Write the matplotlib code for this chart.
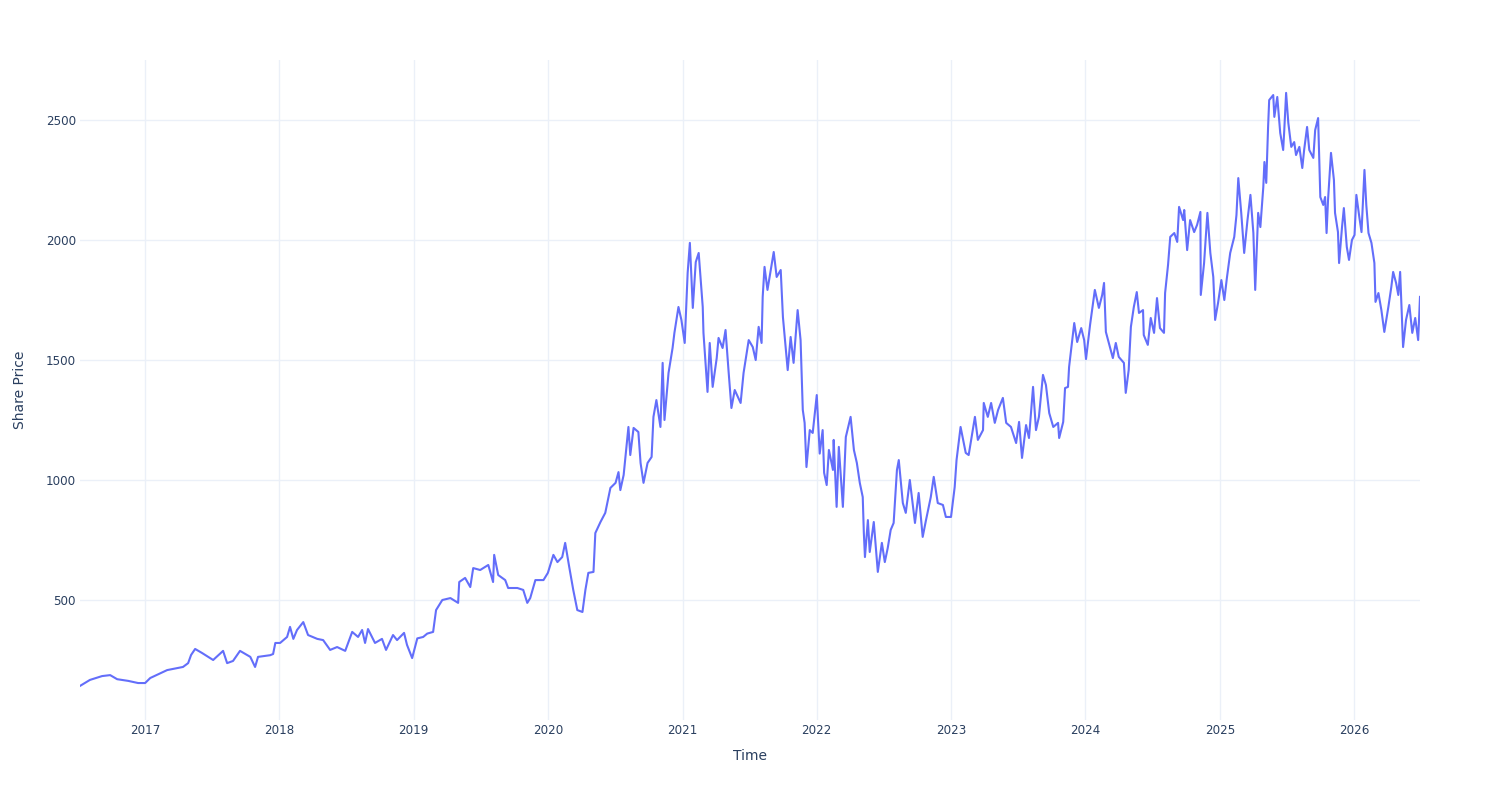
import pandas as pd
import matplotlib.pyplot as plt
import matplotlib.dates as mdates

# share price, one line per year
dates = [
    "2016-07-08", "2016-08-04", "2016-09-06", "2016-09-28", "2016-10-17", "2016-11-16", "2016-12-13",
    "2017-01-01", "2017-01-15", "2017-03-02", "2017-04-14", "2017-04-28", "2017-05-06", "2017-05-17",
    "2017-06-05", "2017-07-05", "2017-08-01", "2017-08-12", "2017-08-28", "2017-09-16", "2017-10-14",
    "2017-10-27", "2017-11-04", "2017-12-07", "2017-12-15", "2017-12-21",
    "2018-01-03", "2018-01-22", "2018-01-30", "2018-02-08", "2018-02-18", "2018-03-07", "2018-03-20",
    "2018-04-14", "2018-04-30", "2018-05-19", "2018-06-07", "2018-06-29", "2018-07-18", "2018-08-03",
    "2018-08-14", "2018-08-22", "2018-08-30", "2018-09-18", "2018-10-07", "2018-10-18", "2018-11-06",
    "2018-11-17", "2018-12-06", "2018-12-14", "2018-12-28",
    "2019-01-11", "2019-01-27", "2019-02-07", "2019-02-23", "2019-03-03", "2019-03-20", "2019-04-11",
    "2019-05-02", "2019-05-05", "2019-05-21", "2019-06-04", "2019-06-12", "2019-07-01", "2019-07-23",
    "2019-08-05", "2019-08-08", "2019-08-19", "2019-09-07", "2019-09-15", "2019-10-10", "2019-10-26",
    "2019-11-06", "2019-11-14", "2019-11-28", "2019-12-20",
    "2020-01-01", "2020-01-16", "2020-01-27", "2020-02-09", "2020-02-17", "2020-02-28", "2020-03-10",
    "2020-03-21", "2020-04-04", "2020-04-12", "2020-04-20", "2020-05-04", "2020-05-09", "2020-05-23",
    "2020-06-05", "2020-06-19", "2020-07-03", "2020-07-11", "2020-07-16", "2020-07-25", "2020-08-07",
    "2020-08-12", "2020-08-21", "2020-09-03", "2020-09-09", "2020-09-17", "2020-09-28", "2020-10-09",
    "2020-10-14", "2020-10-22", "2020-11-02", "2020-11-08", "2020-11-13", "2020-11-24", "2020-12-05",
    "2020-12-10", "2020-12-21", "2020-12-29",
    "2021-01-07", "2021-01-15", "2021-01-21", "2021-01-29", "2021-02-06", "2021-02-14", "2021-02-25",
    "2021-02-27", "2021-03-10", "2021-03-16", "2021-03-24", "2021-04-04", "2021-04-09", "2021-04-20",
    "2021-04-28", "2021-05-06", "2021-05-14", "2021-05-23", "2021-06-08", "2021-06-16", "2021-06-30",
    "2021-07-11", "2021-07-19", "2021-07-27", "2021-08-04", "2021-08-07", "2021-08-12", "2021-08-20",
    "2021-08-29", "2021-09-06", "2021-09-14", "2021-09-25", "2021-10-01", "2021-10-14", "2021-10-22",
    "2021-10-30", "2021-11-10", "2021-11-18", "2021-11-24", "2021-11-29", "2021-12-04", "2021-12-13",
    "2021-12-21",
    "2022-01-01", "2022-01-09", "2022-01-17", "2022-01-21", "2022-01-28", "2022-02-03", "2022-02-14",
    "2022-02-16", "2022-02-24", "2022-03-02", "2022-03-13", "2022-03-21", "2022-04-03", "2022-04-12",
    "2022-04-20", "2022-04-28", "2022-05-06", "2022-05-09", "2022-05-12", "2022-05-20", "2022-05-25",
    "2022-06-05", "2022-06-16", "2022-06-27", "2022-07-05", "2022-07-13", "2022-07-21", "2022-07-29",
    "2022-08-07", "2022-08-12", "2022-08-23", "2022-08-31", "2022-09-11", "2022-09-25", "2022-10-05",
    "2022-10-16", "2022-10-25", "2022-11-07", "2022-11-15", "2022-11-26", "2022-12-10", "2022-12-18",
    "2023-01-01", "2023-01-11", "2023-01-16", "2023-01-27", "2023-02-10", "2023-02-18", "2023-03-07",
    "2023-03-15", "2023-03-29", "2023-03-31", "2023-04-11", "2023-04-20", "2023-04-30", "2023-05-09",
    "2023-05-22", "2023-05-31", "2023-06-13", "2023-06-27", "2023-07-05", "2023-07-13", "2023-07-24",
    "2023-08-01", "2023-08-12", "2023-08-20", "2023-08-28", "2023-09-08", "2023-09-16", "2023-09-25",
    "2023-10-06", "2023-10-19", "2023-10-22", "2023-11-02", "2023-11-07", "2023-11-15", "2023-11-18",
    "2023-12-02", "2023-12-10", "2023-12-21", "2023-12-29",
    "2024-01-03", "2024-01-14", "2024-01-27", "2024-02-07", "2024-02-16", "2024-02-21", "2024-02-26",
    "2024-03-05", "2024-03-16", "2024-03-24", "2024-04-01", "2024-04-15", "2024-04-20", "2024-04-28",
    "2024-05-04", "2024-05-12", "2024-05-20", "2024-05-26", "2024-06-06", "2024-06-08", "2024-06-19",
    "2024-06-27", "2024-07-06", "2024-07-14", "2024-07-22", "2024-08-02", "2024-08-05", "2024-08-13",
    "2024-08-19", "2024-08-30", "2024-09-07", "2024-09-12", "2024-09-23", "2024-09-26", "2024-10-04",
    "2024-10-12", "2024-10-23", "2024-10-31", "2024-11-09", "2024-11-10", "2024-11-19", "2024-11-28",
    "2024-12-06", "2024-12-14", "2024-12-19", "2024-12-27",
    "2025-01-05", "2025-01-13", "2025-01-20", "2025-01-29", "2025-02-09", "2025-02-15", "2025-02-20",
    "2025-02-28", "2025-03-08", "2025-03-17", "2025-03-25", "2025-04-02", "2025-04-07", "2025-04-15",
    "2025-04-21", "2025-04-29", "2025-05-02", "2025-05-07", "2025-05-12", "2025-05-15", "2025-05-26",
    "2025-05-29", "2025-06-06", "2025-06-14", "2025-06-22", "2025-06-25", "2025-06-30", "2025-07-06",
    "2025-07-14", "2025-07-22", "2025-07-27", "2025-08-05", "2025-08-13", "2025-08-18", "2025-08-26",
    "2025-09-01", "2025-09-12", "2025-09-17", "2025-09-25", "2025-10-01", "2025-10-09", "2025-10-14",
    "2025-10-18", "2025-10-22", "2025-10-30", "2025-11-07", "2025-11-10", "2025-11-18", "2025-11-21",
    "2025-11-29", "2025-12-04", "2025-12-12", "2025-12-18", "2025-12-26",
    "2026-01-02", "2026-01-07", "2026-01-15", "2026-01-21", "2026-01-29", "2026-02-03", "2026-02-09",
    "2026-02-17", "2026-02-25", "2026-02-28", "2026-03-08", "2026-03-16", "2026-03-24", "2026-04-04",
    "2026-04-12", "2026-04-17", "2026-04-25", "2026-05-01", "2026-05-06", "2026-05-14", "2026-05-22",
    "2026-05-31", "2026-06-08", "2026-06-16", "2026-06-24", "2026-06-29",
]
prices = [
    142, 167, 183, 187, 170, 163, 154,
    154, 175, 208, 221, 237, 271, 296, 279, 250, 288, 237, 246, 288, 263,
    221, 263, 270, 275, 321,
    321, 346, 388, 338, 375, 408, 354, 338, 333, 292, 304, 288, 367, 346,
    375, 321, 379, 321, 338, 292, 354, 333, 363, 313, 258,
    340, 346, 360, 367, 458, 500, 508, 488, 575, 592, 554, 633, 625, 646,
    575, 688, 604, 583, 550, 550, 542, 488, 508, 583, 583,
    613, 688, 658, 679, 738, 638, 542, 458, 450, 542, 613, 617, 779, 825,
    863, 967, 988, 1033, 958, 1021, 1221, 1104, 1217, 1200, 1071, 988, 1071, 1096,
    1263, 1333, 1221, 1488, 1250, 1446, 1550, 1613, 1721, 1667,
    1571, 1863, 1988, 1717, 1908, 1946, 1721, 1613, 1367, 1571, 1388, 1508, 1592, 1550,
    1625, 1458, 1300, 1375, 1321, 1446, 1583, 1554, 1500, 1638, 1571, 1763, 1888, 1792,
    1875, 1950, 1846, 1875, 1679, 1458, 1596, 1488, 1708, 1583, 1292, 1238, 1054, 1208,
    1196,
    1354, 1110, 1208, 1030, 979, 1125, 1042, 1167, 888, 1138, 888, 1179, 1263, 1125,
    1071, 988, 929, 779, 679, 833, 700, 825, 617, 738, 658, 717, 792, 821,
    1042, 1083, 904, 863, 1000, 821, 946, 763, 833, 929, 1013, 904, 896, 846,
    846, 971, 1083, 1221, 1113, 1104, 1263, 1167, 1208, 1321, 1263, 1321, 1238, 1292,
    1342, 1238, 1221, 1154, 1242, 1092, 1229, 1175, 1388, 1208, 1263, 1438, 1396, 1279,
    1221, 1238, 1175, 1242, 1383, 1388, 1471, 1654, 1575, 1633, 1583,
    1504, 1646, 1792, 1717, 1771, 1821, 1617, 1571, 1508, 1571, 1513, 1488, 1363, 1458,
    1638, 1721, 1783, 1696, 1708, 1604, 1563, 1675, 1613, 1758, 1633, 1613, 1779, 1896,
    2013, 2029, 1992, 2138, 2083, 2125, 1958, 2083, 2033, 2063, 2117, 1771, 1904, 2113,
    1946, 1846, 1667, 1738,
    1833, 1750, 1842, 1946, 2013, 2104, 2258, 2113, 1946, 2083, 2188, 2029, 1792, 2113,
    2054, 2221, 2325, 2238, 2471, 2583, 2604, 2513, 2596, 2446, 2375, 2458, 2613, 2488,
    2388, 2408, 2354, 2388, 2300, 2375, 2471, 2375, 2342, 2458, 2508, 2179, 2146, 2179,
    2029, 2167, 2363, 2250, 2113, 2033, 1904, 2054, 2133, 1971, 1917, 2000,
    2021, 2188, 2096, 2033, 2292, 2146, 2029, 1988, 1904, 1742, 1779, 1708, 1617, 1721,
    1804, 1867, 1821, 1771, 1867, 1554, 1667, 1729, 1613, 1675, 1583, 1763,
]
y_ticks = [500, 1000, 1500, 2000, 2500]

dates = pd.to_datetime(dates)
text_color = "#2a3f5f"
grid_color = "#EBF0F8"

fig = plt.figure(figsize=(15, 8), dpi=100)
ax = fig.add_axes([80 / 1500, 80 / 800, 1340 / 1500, 660 / 800])

ax.plot(dates, prices, color="#636efa", linewidth=1.5)

ax.set_xlim(dates[0], dates[-1])
ax.set_ylim(0, 2750)
ax.set_yticks(y_ticks)
ax.xaxis.set_major_locator(mdates.YearLocator())
ax.xaxis.set_major_formatter(mdates.DateFormatter("%Y"))

ax.grid(True, color=grid_color, linewidth=1)
ax.set_axisbelow(True)
for s in ax.spines.values():
    s.set_visible(False)
ax.tick_params(axis="both", length=0, labelsize=8.6, colors=text_color)
ax.tick_params(axis="x", pad=3)
ax.tick_params(axis="y", pad=3)

ax.set_xlabel("Time", fontsize=10, color=text_color, va="center")
ax.xaxis.set_label_coords(0.5, -36 / 660)
ax.set_ylabel("Share Price", fontsize=10, color=text_color, va="center")
ax.yaxis.set_label_coords(-60 / 1340, 0.5)

fig.savefig("out.png", dpi=100, facecolor="white")
